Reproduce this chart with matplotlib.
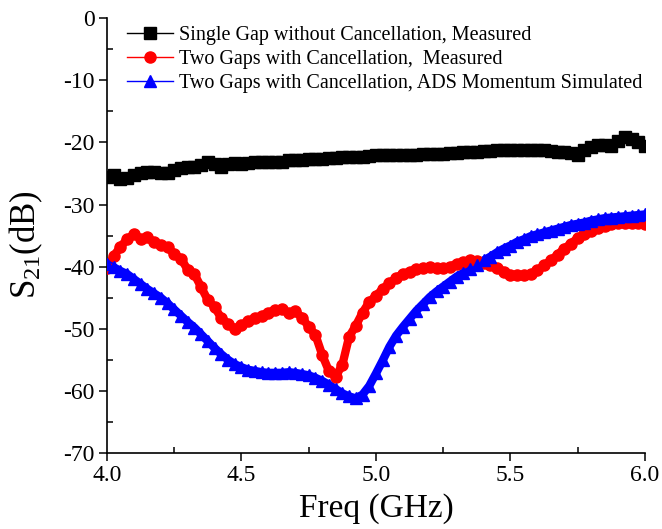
import numpy as np
import matplotlib
matplotlib.use("Agg")
import matplotlib.pyplot as plt
from matplotlib.lines import Line2D
from matplotlib.ticker import MultipleLocator, FormatStrFormatter

plt.rcParams["font.family"] = ["Liberation Serif", "DejaVu Serif"]
plt.rcParams["mathtext.fontset"] = "custom"
plt.rcParams["mathtext.rm"] = "Liberation Serif"
plt.rcParams["mathtext.default"] = "regular"
plt.rcParams["axes.unicode_minus"] = False

# Frequency grid (GHz), read every 0.025 GHz
freq = np.linspace(4.0, 6.0, 81)

# Single gap without cancellation, measured (dB)
single_gap = [
    -25.5, -25.3, -25.9, -25.7, -25.3, -25.0, -24.8, -24.8, -25.0, -24.9,
    -24.5, -24.1, -24.0, -23.9, -23.6, -23.1, -23.5, -23.9, -23.5, -23.3,
    -23.4, -23.3, -23.2, -23.2, -23.1, -23.1, -23.1, -22.9, -22.9, -22.8,
    -22.7, -22.7, -22.6, -22.5, -22.5, -22.4, -22.4, -22.3, -22.3, -22.2,
    -22.1, -22.1, -22.1, -22.0, -22.0, -22.0, -22.0, -21.9, -21.9, -21.9,
    -21.8, -21.7, -21.7, -21.6, -21.5, -21.5, -21.4, -21.4, -21.3, -21.3,
    -21.2, -21.3, -21.2, -21.3, -21.2, -21.3, -21.4, -21.5, -21.6, -21.7,
    -22.0, -21.3, -20.8, -20.5, -20.5, -20.6, -19.7, -19.1, -19.4, -19.9,
    -20.6,
]

# Two gaps with cancellation, measured (dB)
two_gap_meas = [
    -40.3, -38.3, -36.8, -35.6, -34.8, -35.5, -35.3, -36.1, -36.5, -36.8,
    -38.0, -38.7, -40.5, -41.2, -43.3, -45.4, -46.5, -48.3, -49.2, -50.0,
    -49.4, -48.8, -48.3, -47.9, -47.4, -47.0, -46.8, -47.5, -47.2, -48.2,
    -49.7, -51.0, -54.2, -56.8, -57.7, -55.8, -51.3, -49.5, -47.4, -45.7,
    -44.7, -43.6, -42.7, -41.8, -41.2, -40.8, -40.4, -40.2, -40.0, -40.2,
    -40.3, -40.0, -39.5, -39.3, -39.0, -39.1, -39.4, -39.7, -40.2, -40.8,
    -41.3, -41.4, -41.4, -41.2, -40.6, -39.8, -39.0, -38.1, -37.1, -36.3,
    -35.4, -34.8, -34.2, -33.8, -33.5, -33.2, -32.9, -33.0, -32.9, -32.9,
    -33.2,
]

# Two gaps with cancellation, ADS Momentum simulated (dB)
two_gap_sim = [
    -39.5, -40.1, -40.7, -41.2, -42.0, -42.8, -43.6, -44.3, -45.0, -45.9,
    -46.9, -47.9, -48.9, -49.8, -50.9, -52.0, -53.1, -54.1, -55.0, -55.7,
    -56.2, -56.6, -56.8, -57.0, -57.1, -57.1, -57.1, -57.0, -57.1, -57.3,
    -57.5, -57.9, -58.4, -59.0, -59.7, -60.4, -60.9, -61.2, -60.6, -59.2,
    -57.2, -55.1, -52.9, -51.1, -49.7, -48.4, -47.1, -46.0, -44.9, -44.0,
    -43.2, -42.4, -41.6, -41.0, -40.4, -39.7, -39.0, -38.4, -37.7, -37.1,
    -36.6, -36.0, -35.6, -35.1, -34.8, -34.5, -34.2, -33.9, -33.6, -33.3,
    -33.1, -32.9, -32.6, -32.4, -32.2, -32.1, -32.0, -31.9, -31.8, -31.7,
    -31.6,
]

labels = [
    "Single Gap without Cancellation, Measured",
    "Two Gaps with Cancellation,  Measured",
    "Two Gaps with Cancellation, ADS Momentum Simulated",
]
series = [single_gap, two_gap_meas, two_gap_sim]
colors = ["black", "red", "blue"]
markers = ["s", "o", "^"]

fig = plt.figure(figsize=(6.62, 5.29), dpi=100)
ax = fig.add_axes([0.1616, 0.1437, 0.8127, 0.822])

# dense measured traces: a thick band with the markers on top
for y, c, m in zip(series, colors, markers):
    ax.plot(freq, y, color=c, lw=6, solid_capstyle="round", zorder=2)
    ax.plot(freq, y, color=c, lw=0, marker=m, markersize=8, zorder=3)

ax.set_xlim(4.0, 6.0)
ax.set_ylim(-70, 0)
ax.xaxis.set_major_locator(MultipleLocator(0.5))
ax.xaxis.set_minor_locator(MultipleLocator(0.25))
ax.yaxis.set_major_locator(MultipleLocator(10))
ax.yaxis.set_minor_locator(MultipleLocator(5))
ax.xaxis.set_major_formatter(FormatStrFormatter("%.1f"))

ax.spines["top"].set_visible(False)
ax.spines["right"].set_visible(False)
for s in ("left", "bottom"):
    ax.spines[s].set_linewidth(1.2)
ax.tick_params(which="major", direction="out", length=6, width=1.1, labelsize=17, pad=3)
ax.tick_params(which="minor", direction="in", length=4, width=1.1)

ax.set_xlabel("Freq (GHz)", fontsize=24, labelpad=5)
ax.set_ylabel(r"S$_{21}$(dB)", fontsize=25)
ax.yaxis.set_label_coords(-0.115, 0.48)

handles = [Line2D([], [], color=c, lw=1, marker=m, markersize=8)
           for c, m in zip(colors, markers)]
fig.legend(handles, labels, loc="upper left", bbox_to_anchor=(0.1797, 0.967),
           frameon=False, fontsize=14.5, handlelength=2.3, handletextpad=0.3,
           labelspacing=0.25, borderaxespad=0.0)

fig.savefig("out.png", dpi=100)
